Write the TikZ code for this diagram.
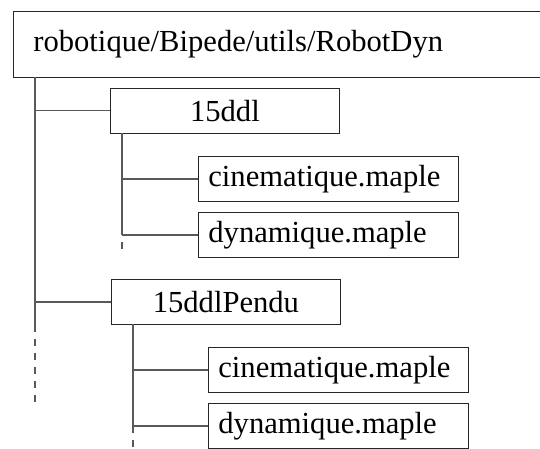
\documentclass[tikz,border=0pt]{standalone}
\usepackage{fontspec}
\setmainfont{Liberation Serif}
\usetikzlibrary{positioning}

\begin{document}
\begin{tikzpicture}[x=0.5pt,y=-0.5pt,
  rootbox/.style={draw=black!85,anchor=north west,inner xsep=10pt,text width=246pt,
    minimum height=33pt,align=left,font=\fontsize{15.3}{17}\selectfont},
  dirbox/.style={draw=black!85,anchor=north west,minimum width=114.5pt,
    minimum height=22.5pt,align=center,font=\fontsize{15.3}{17}\selectfont},
  filebox/.style={draw=black!85,anchor=north west,inner xsep=5pt,text width=120pt,
    minimum height=22.5pt,align=left,font=\fontsize{15.3}{17}\selectfont},
  wire/.style={draw=black!65,line width=0.6pt},
  tail/.style={wire,dash pattern=on 3.5pt off 3.5pt,dash phase=3.5pt}]
  \useasboundingbox (0,0) rectangle (540,449);
  \node[rootbox] (root) at (13,11) {robotique/Bipede/utils/RobotDyn};
  \node[dirbox] (ddl) at (110,88) {15ddl};
  \node[filebox] (cinA) at (198,156) {cinematique.maple};
  \node[filebox] (dynA) at (198,212) {dynamique.maple};
  \node[dirbox] (pendu) at (111,279) {15ddlPendu};
  \node[filebox] (cinB) at (208,347) {cinematique.maple};
  \node[filebox] (dynB) at (208,403) {dynamique.maple};
  % main trunk
  \coordinate (t0) at (35,77);
  \coordinate (t1) at (35,332);
  \coordinate (t2) at (35,402);
  \draw[wire] (t0) -- (t1);
  \draw[tail] (t1) -- (t2);
  \draw[wire] (ddl.west) -- (ddl.west -| t0);
  \draw[wire] (pendu.west) -- (pendu.west -| t0);
  % 15ddl trunk
  \coordinate (a0) at (122,133);
  \coordinate (a1) at (122,235);
  \coordinate (a2) at (122,250);
  \draw[wire] (a0) -- (a1);
  \draw[tail] (a1) -- (a2);
  \draw[wire] (cinA.west) -- (cinA.west -| a0);
  \draw[wire] (dynA.west) -- (dynA.west -| a0);
  % 15ddlPendu trunk
  \coordinate (b0) at (133,324);
  \coordinate (b1) at (133,433);
  \coordinate (b2) at (133,449);
  \draw[wire] (b0) -- (b1);
  \draw[tail] (b1) -- (b2);
  \draw[wire] (cinB.west) -- (cinB.west -| b0);
  \draw[wire] (dynB.west) -- (dynB.west -| b0);
\end{tikzpicture}
\end{document}
